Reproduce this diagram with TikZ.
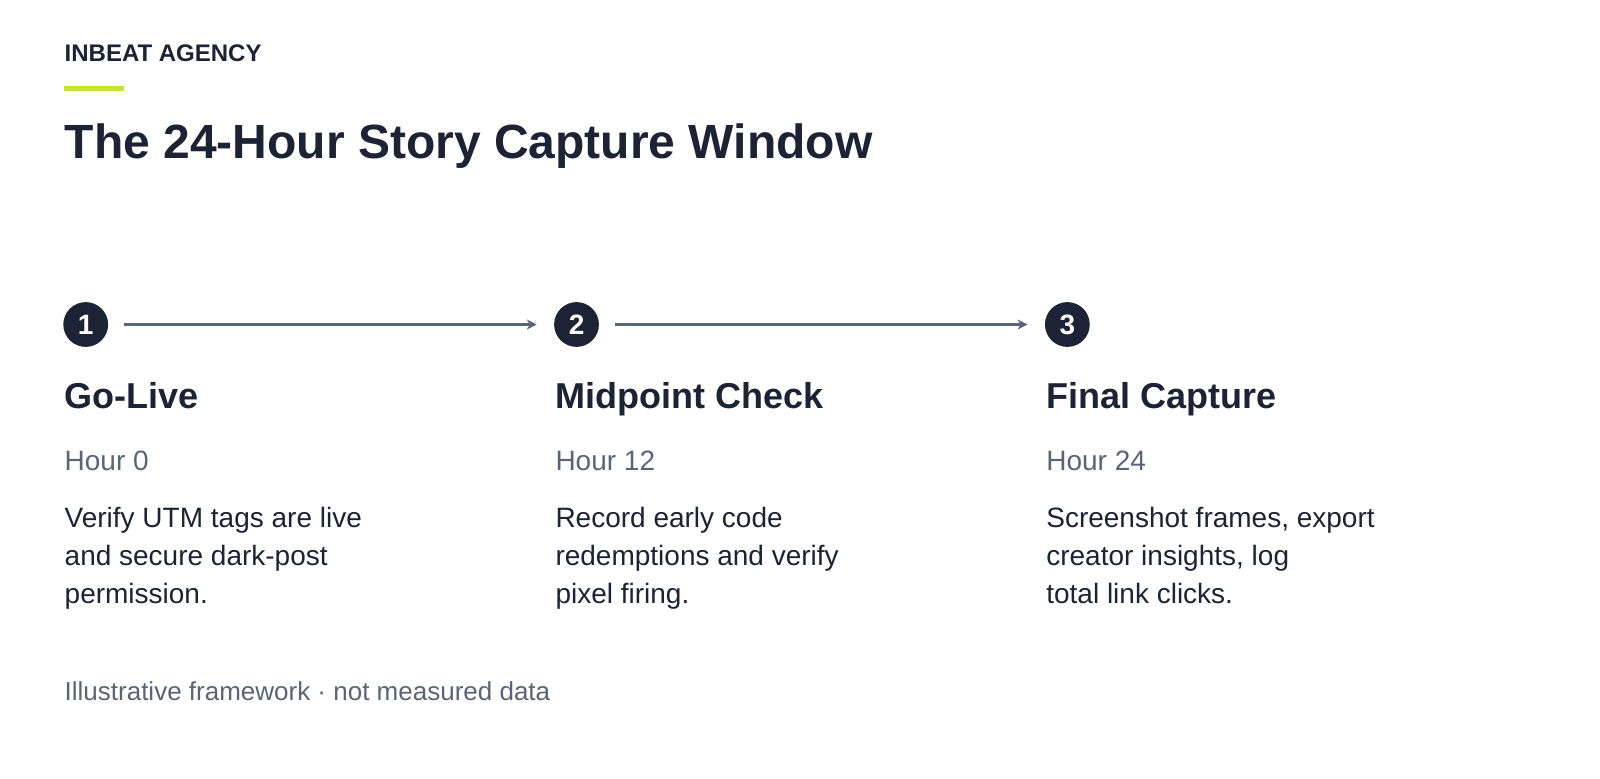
\documentclass[tikz,border=0pt]{standalone}
\usepackage{fontspec}
\setmainfont{Liberation Sans}
\usetikzlibrary{arrows.meta}
\definecolor{navy}{HTML}{1B2335}
\definecolor{slate}{HTML}{5A6478}
\definecolor{lime}{HTML}{C5E334}
\begin{document}
\begin{tikzpicture}[x=0.5102pt,y=-0.5102pt,
  txt/.style={anchor=base west,inner sep=0pt},
  num/.style={circle,fill=navy,minimum size=22.4pt,inner sep=0pt,text=white,font=\fontsize{14}{16}\selectfont\bfseries},
  conn/.style={draw=slate,line width=1.3pt,-{Stealth[length=5pt,width=5pt]}},
  stitle/.style={txt,text=navy,font=\fontsize{18}{22}\selectfont\bfseries},
  hour/.style={txt,text=slate,font=\fontsize{14}{17}\selectfont},
  body/.style={txt,text=navy,font=\fontsize{14}{18.9}\selectfont,align=left}]
\useasboundingbox (0,0) rectangle (1568,763.4);
\fill[white] (0,0) rectangle (1568,763.4);
\node[txt,text=navy,font=\fontsize{12}{14}\selectfont\bfseries] (brand) at (63,60) {INBEAT AGENCY};
\fill[lime] (63,84) rectangle (122,89);
\node[txt,text=navy,font=\fontsize{24}{29}\selectfont\bfseries] (title) at (63,155) {The 24-Hour Story Capture Window};
\node[num] (n1) at (84,318) {1};
\node[num] (n2) at (565,318) {2};
\node[num] (n3) at (1046,318) {3};
\coordinate (a1s) at (122,318); \coordinate (a1e) at (526,318);
\coordinate (a2s) at (603,318); \coordinate (a2e) at (1007,318);
\draw[conn] (a1s) -- (a1e);
\draw[conn] (a2s) -- (a2e);
\node[stitle] (t1) at (63,400) {Go-Live};
\node[stitle] (t2) at (544,400) {Midpoint Check};
\node[stitle] (t3) at (1025,400) {Final Capture};
\node[hour] (h1) at (63,461) {Hour 0};
\node[hour] (h2) at (544,461) {Hour 12};
\node[hour] (h3) at (1025,461) {Hour 24};
\node[body,anchor=north west] (b1) at (63,497) {Verify UTM tags are live\\and secure dark-post\\permission.};
\node[body,anchor=north west] (b2) at (544,497) {Record early code\\redemptions and verify\\pixel firing.};
\node[body,anchor=north west] (b3) at (1025,497) {Screenshot frames, export\\creator insights, log\\total link clicks.};
\node[txt,text=slate,font=\fontsize{13}{16}\selectfont] (foot) at (63,686) {Illustrative framework · not measured data};
\end{tikzpicture}
\end{document}
